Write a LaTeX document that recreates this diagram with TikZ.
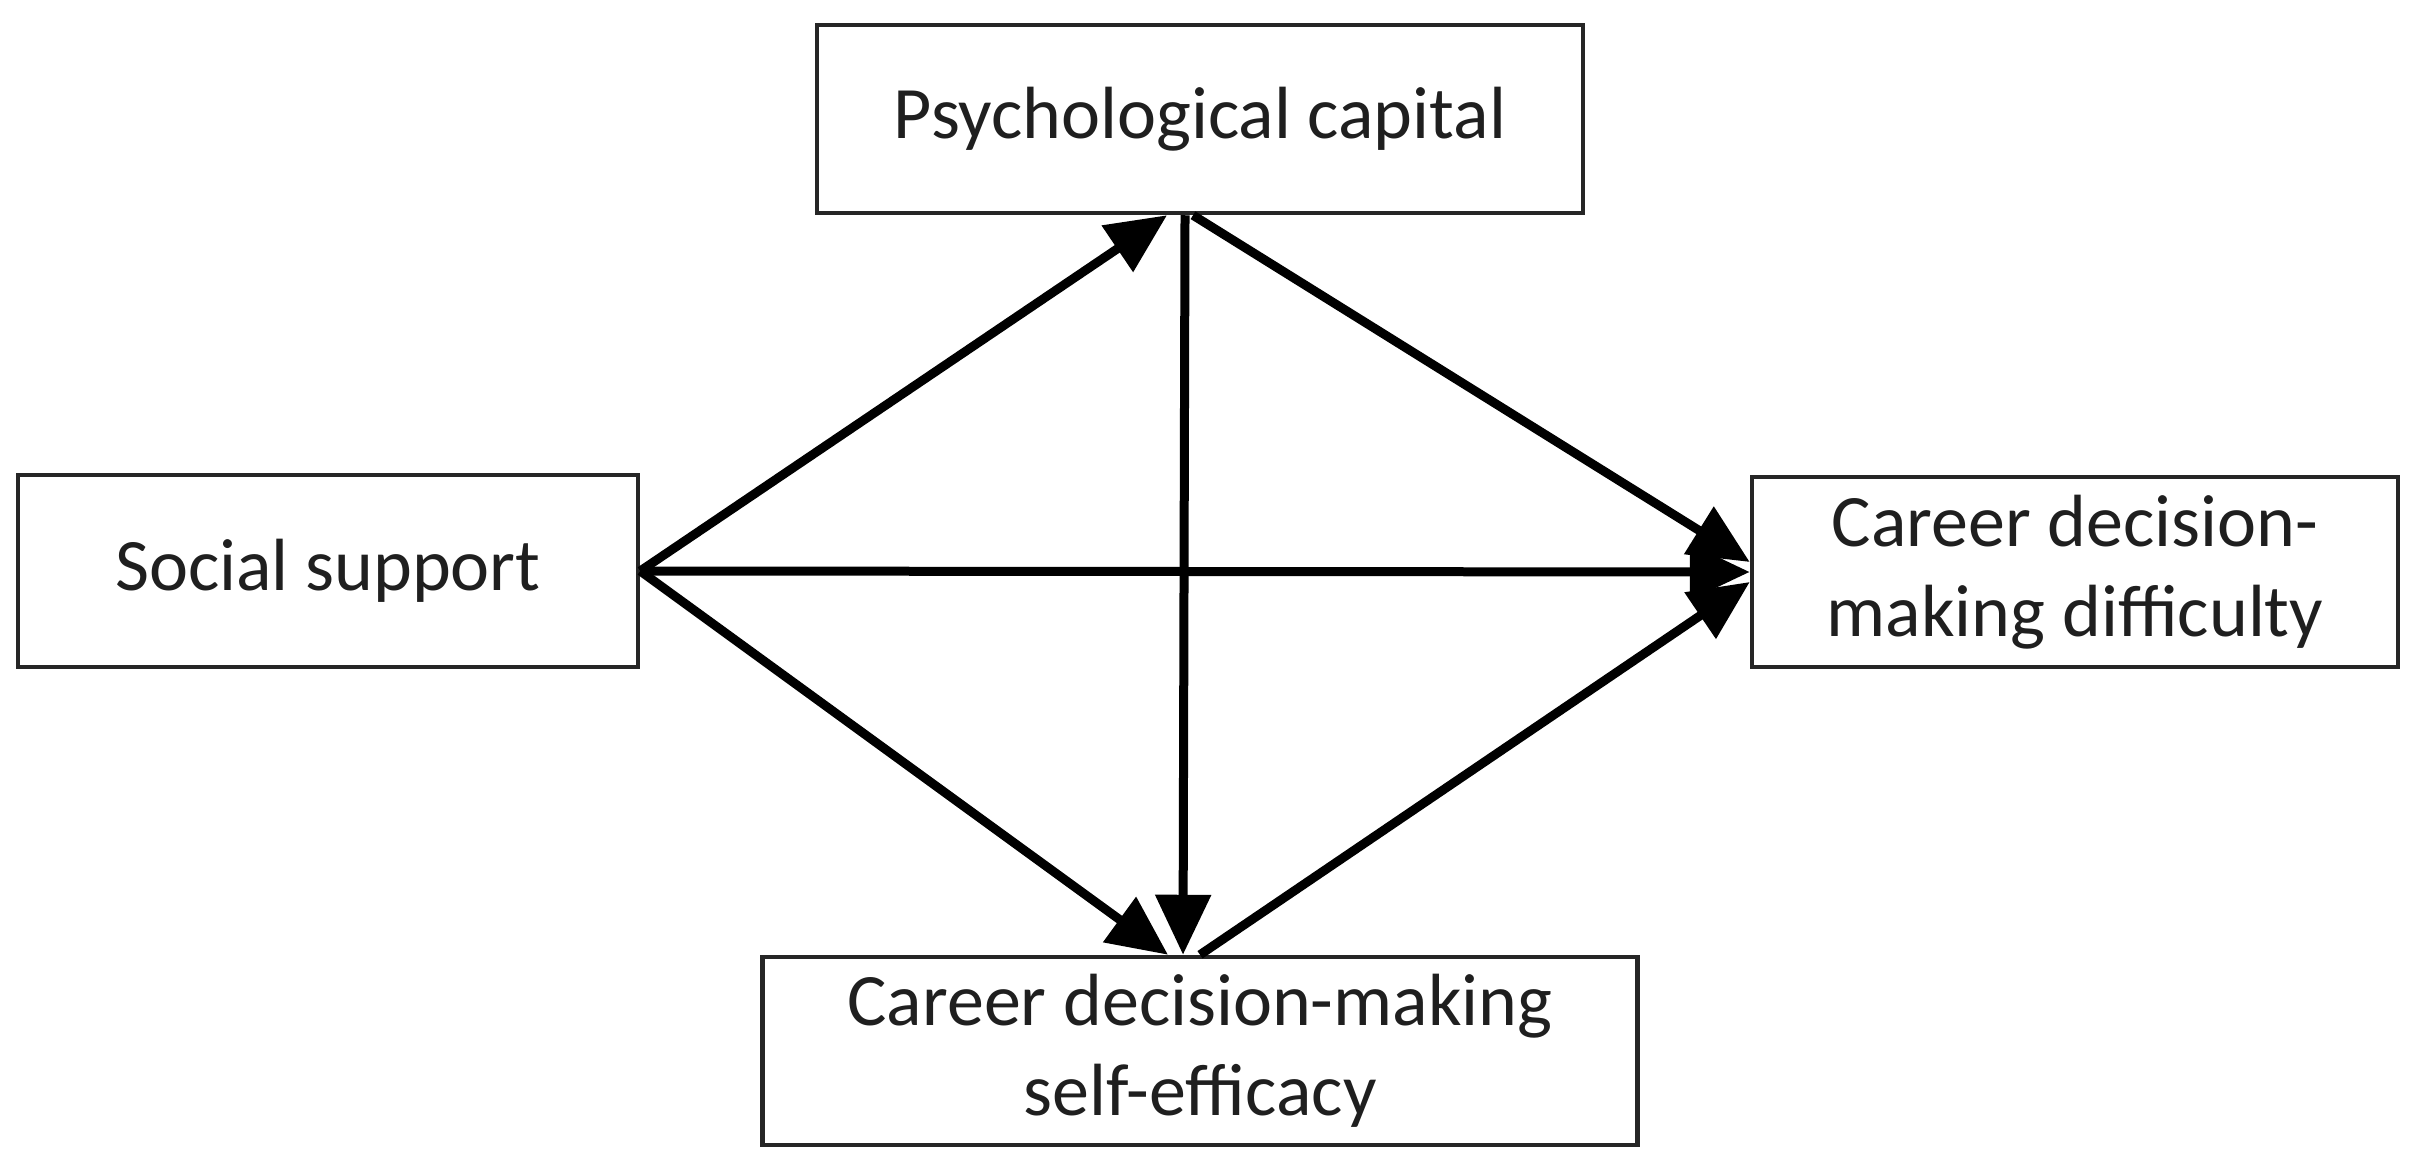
\documentclass[tikz,border=0pt]{standalone}
\usepackage{fontspec}
\setmainfont{Carlito}
\usetikzlibrary{arrows.meta,calc}
\begin{document}
\begin{tikzpicture}[x=0.1mm,y=-0.1mm,
  box/.style={draw=black!85, line width=0.45mm, align=center, inner sep=0pt,
    text=black!88, font=\fontsize{21.05}{25.5}\selectfont},
  arr/.style={line width=0.9mm, -{Triangle[length=6mm,width=5.4mm]}}]
\useasboundingbox (0,0) rectangle (2415,1171);
\node[box, minimum width=76.6mm, minimum height=18.8mm] (pc) at (1200,119) {Psychological capital};
\node[box, minimum width=62mm, minimum height=19.2mm] (ss) at (328,571) {Social support};
\node[box, minimum width=64.6mm, minimum height=19mm] (df) at (2075,572) {Career decision-\\making difficulty};
\node[box, minimum width=87.5mm, minimum height=18.8mm] (se) at (1200,1051) {Career decision-making\\self-efficacy};
\draw[arr] (ss.east) -- ($(pc.south)+(-33,0)$);
\draw[arr] (ss.east) -- (df.west);
\draw[arr] (ss.east) -- ($(se.north)+(-32,0)$);
\draw[arr] ($(pc.south)+(-7,0)$) -- ($(df.west)+(0,-10)$);
\draw[arr] (se.north) -- ($(df.west)+(0,10)$);
\draw[arr] ($(pc.south)+(-15,0)$) -- ($(se.north)+(-17,0)$);
\end{tikzpicture}
\end{document}
